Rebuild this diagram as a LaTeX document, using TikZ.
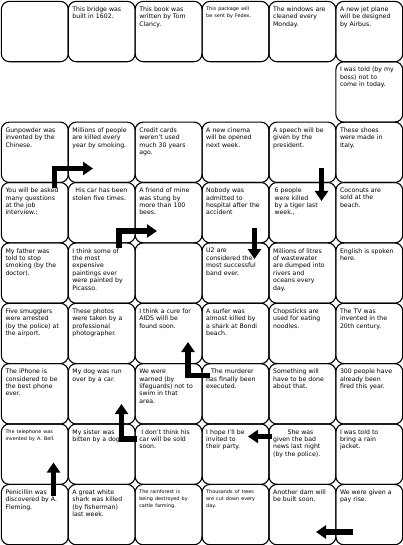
\documentclass[tikz,border=0pt]{standalone}
\usepackage{fontspec}
\setmainfont{DejaVu Sans}
\usepackage{tikz}
\usetikzlibrary{arrows.meta,calc}
\newcommand{\smalltxt}{\fontsize{4.9}{6.9}\selectfont}

\begin{document}
\begin{tikzpicture}[
  x=1pt,y=-1pt,
  cell/.style={draw,line width=1.1pt,rounded corners=8pt,minimum width=66.9pt,minimum height=60.38pt,anchor=north west,inner sep=0pt},
  txt/.style={anchor=north west,inner sep=0pt,text width=64pt,align=left,font=\fontsize{6.2}{7.4}\selectfont},
  blk/.style={line width=5.5pt,line join=miter,-{Triangle[length=10pt,width=13pt]}}
]
  \useasboundingbox (0,0) rectangle (403,545);
  % cards: row/column/text
  \foreach \r/\c/\t in {
    1/1/{},
    1/2/{This bridge was\\built in 1602.},
    1/3/{This book was\\written by Tom\\Clancy.},
    1/4/{\smalltxt This package will\\be sent by Fedex.},
    1/5/{The windows are\\cleaned every\\Monday.},
    1/6/{A new jet plane\\will be designed\\by Airbus.},
    2/6/{I was told (by my\\boss) not to\\come in today.},
    3/1/{Gunpowder was\\invented by the\\Chinese.},
    3/2/{Millions of people\\are killed every\\year by smoking.},
    3/3/{Credit cards\\weren't used\\much 30 years\\ago.},
    3/4/{A new cinema\\will be opened\\next week.},
    3/5/{A speech will be\\given by the\\president.},
    3/6/{These shoes\\were made in\\Italy.},
    4/1/{You will be asked\\many questions\\at the job\\interview.:},
    4/2/{\hspace*{3pt}His car has been\\stolen five times.},
    4/3/{A friend of mine\\was stung by\\more than 100\\bees.},
    4/4/{Nobody was\\admitted to\\hospital after the\\accident},
    4/5/{\hspace*{1.5pt}6 people\\\hspace*{1.5pt}were killed\\\hspace*{1.5pt}by a tiger last\\\hspace*{1.5pt}week.,},
    4/6/{Coconuts are\\sold at the\\beach.},
    5/1/{My father was\\told to stop\\smoking (by the\\doctor).},
    5/2/{I think some of\\the most\\expensive\\paintings ever\\were painted by\\Picasso.},
    5/3/{},
    5/4/{U2 are\\considered the\\most successful\\band ever.},
    5/5/{Millions of litres\\of wastewater\\are dumped into\\rivers and\\oceans every\\day.},
    5/6/{English is spoken\\here.},
    6/1/{Five smugglers\\were arrested\\(by the police) at\\the airport.},
    6/2/{These photos\\were taken by a\\professional\\photographer.},
    6/3/{I think a cure for\\AIDS willl be\\found soon.},
    6/4/{A surfer was\\almost killed by\\a shark at Bondi\\beach.},
    6/5/{Chopsticks are\\used for eating\\noodles.},
    6/6/{The TV was\\invented in the\\20th century.},
    7/1/{The iPhone is\\considered to be\\the best phone\\ever.},
    7/2/{My dog was run\\over by a car.},
    7/3/{We were\\warned (by\\lifeguards) not to\\swim in that\\area.},
    7/4/{\hspace*{5pt}The murderer\\has finally been\\executed.},
    7/5/{Something will\\have to be done\\about that.},
    7/6/{300 people have\\already been\\fired this year.},
    8/1/{\smalltxt The telephone was\\invented by A. Bell.},
    8/2/{My sister was\\bitten by a dog.},
    8/3/{\hspace*{2pt}I don't think his\\car will be sold\\soon.},
    8/4/{I hope I'll be\\invited to\\their party.},
    8/5/{\hspace*{14.5pt}She was\\given the bad\\news last night\\(by the police).},
    8/6/{I was told to\\bring a rain\\jacket.},
    9/1/{Penicillin was\\discovered by A.\\Fleming.},
    9/2/{A great white\\shark was killed\\(by fisherman)\\last week.},
    9/3/{\smalltxt The rainforest is\\being destroyed by\\cattle farming.},
    9/4/{\smalltxt Thousands of trees\\are cut down every\\day.},
    9/5/{Another dam will\\be built soon.},
    9/6/{We were given a\\pay rise.}}{
    \node[cell] (b\r\c) at ({0.8+(\c-1)*66.9},{0.8+(\r-1)*60.38}) {};
    \node[txt] (t\r\c) at ($(b\r\c.north west)+(4.5,5.8)$) {\t};
  }
  % arrows
  \coordinate (a1s) at (54.5,188);  \coordinate (a1e) at (93,168.5);
  \coordinate (a2s) at (119,248);   \coordinate (a2e) at (157,231);
  \coordinate (a3s) at (321.5,168); \coordinate (a3e) at (321.5,201);
  \coordinate (a4s) at (254.5,228); \coordinate (a4e) at (254.5,259);
  \coordinate (a5s) at (210,375.5); \coordinate (a5e) at (188,342);
  \coordinate (a6s) at (137,439);   \coordinate (a6e) at (121.5,404);
  \coordinate (a7s) at (272,436.5); \coordinate (a7e) at (248,436.5);
  \coordinate (a8s) at (53.5,496);  \coordinate (a8e) at (53.5,462.5);
  \coordinate (a9s) at (353,532);   \coordinate (a9e) at (316,532);
  \draw[blk] (a1s) |- (a1e);
  \draw[blk] (a2s) |- (a2e);
  \draw[blk] (a3s) -- (a3e);
  \draw[blk] (a4s) -- (a4e);
  \draw[blk] (a5s) -| (a5e);
  \draw[blk] (a6s) -| (a6e);
  \draw[blk] (a7s) -- (a7e);
  \draw[blk] (a8s) -- (a8e);
  \draw[blk] (a9s) -- (a9e);
\end{tikzpicture}
\end{document}
